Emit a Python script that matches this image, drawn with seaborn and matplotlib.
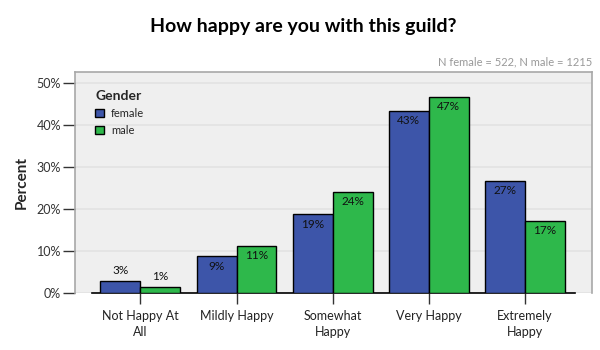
import matplotlib
matplotlib.use("Agg")
import matplotlib.pyplot as plt
import seaborn as sns
import pandas as pd
from matplotlib.patches import Patch

categories = ["Not Happy At\nAll", "Mildly Happy", "Somewhat\nHappy", "Very Happy", "Extremely\nHappy"]
female = [2.8, 8.7, 18.7, 43.3, 26.7]
male = [1.4, 11.2, 24.0, 46.7, 17.1]
female_labels = ["3%", "9%", "19%", "43%", "27%"]
male_labels = ["1%", "11%", "24%", "47%", "17%"]
genders = ["female", "male"]
colors = {"female": "#3d55a9", "male": "#2eb84b"}

rows = []
for c, f, m in zip(categories, female, male):
    rows.append({"Answer": c, "Gender": "female", "Percent": f})
    rows.append({"Answer": c, "Gender": "male", "Percent": m})
df = pd.DataFrame(rows)

sns.set_theme(style="white")
plt.rcParams["font.family"] = ["Lato", "DejaVu Sans"]

fig = plt.figure(figsize=(6, 3.5), dpi=100)
ax = fig.add_axes([0.125, 0.163, 0.862, 0.631])
ax.set_facecolor("#efefef")

sns.barplot(data=df, x="Answer", y="Percent", hue="Gender", order=categories,
            hue_order=genders, palette=colors, width=0.83, edgecolor="black",
            linewidth=1.0, saturation=1, ax=ax, legend=False, zorder=3)

ax.set_ylim(0, 52.6)
ax.set_xlim(-0.68, 4.70)
ax.set_yticks([0, 10, 20, 30, 40, 50])
ax.set_yticklabels([f"{v}%" for v in [0, 10, 20, 30, 40, 50]], fontsize=9, color="#333333")
ax.yaxis.grid(True, color="#e2e2e2", linewidth=1.2, zorder=0)
ax.set_axisbelow(True)
ax.tick_params(axis="y", length=9, width=1, color="#333333", left=True, pad=1)
ax.tick_params(axis="x", length=8, width=1, color="#333333", bottom=True, pad=4, labelsize=9)
for lbl in ax.get_xticklabels():
    lbl.set_color("#222222")
    lbl.set_linespacing(1.45)

for side in ["top", "right", "left"]:
    ax.spines[side].set_color("#a8a8a8")
    ax.spines[side].set_linewidth(1.2)
ax.spines["bottom"].set_color("black")
ax.spines["bottom"].set_linewidth(1.2)
ax.spines["bottom"].set_bounds(-0.5, 4.52)

ax.set_xlabel("")
ax.set_ylabel("Percent", fontsize=11, fontweight="bold", labelpad=6)

# value labels: inside near the top for tall bars, above for short ones
for container, vals, labels in zip(ax.containers, [female, male], [female_labels, male_labels]):
    for bar, v, t in zip(container, vals, labels):
        x = bar.get_x() + bar.get_width() / 2
        if v < 5:
            ax.annotate(t, (x, v), xytext=(0, 4), textcoords="offset points",
                        ha="center", va="bottom", fontsize=8.5, color="#111111", zorder=5)
        else:
            ax.annotate(t, (x, v), xytext=(0, -3), textcoords="offset points",
                        ha="center", va="top", fontsize=8.5, color="#111111", zorder=5)

handles = [Patch(facecolor=colors[g], edgecolor="black", linewidth=1) for g in genders]
leg = ax.legend(handles, genders, title="Gender", loc="upper left",
                bbox_to_anchor=(0.02, 0.965), frameon=False, fontsize=8,
                handlelength=0.8, handleheight=0.8, handletextpad=0.6,
                labelspacing=0.55, alignment="left")
leg.get_title().set_fontweight("bold")
leg.get_title().set_fontsize(10)

fig.text(0.505, 0.925, "How happy are you with this guild?", ha="center", va="center",
         fontsize=14, fontweight="bold", color="black")
fig.text(0.987, 0.822, "N female = 522, N male = 1215", ha="right", va="center",
         fontsize=8, color="#999999")

fig.savefig("out.png", dpi=100)
